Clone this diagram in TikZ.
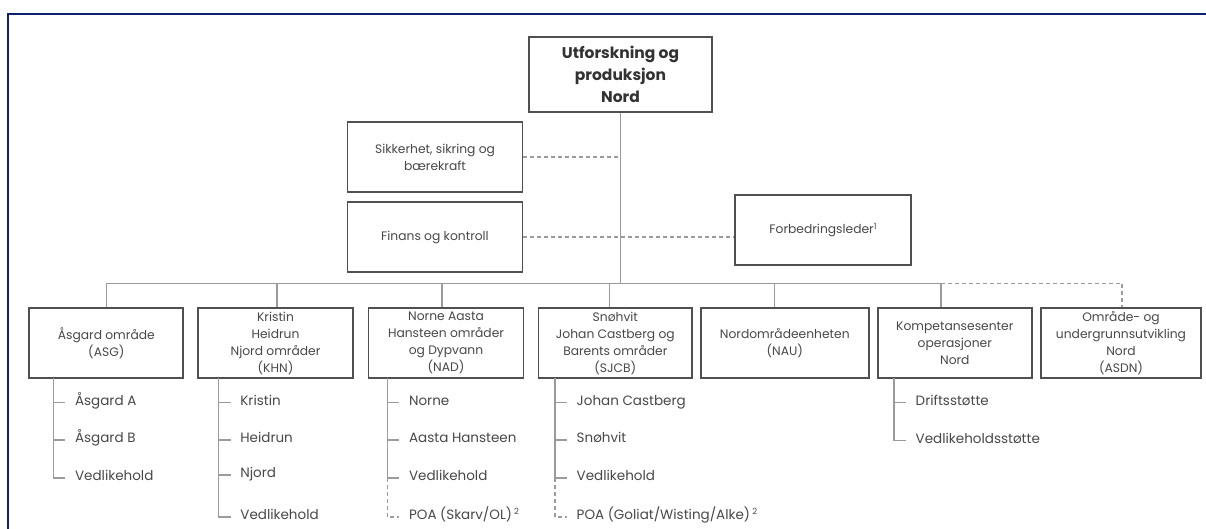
\documentclass[tikz,border=0pt]{standalone}
\usepackage{fontspec}
\setmainfont{Poppins}
\definecolor{navy}{RGB}{14,32,112}
\definecolor{boxline}{RGB}{80,80,80}
\definecolor{connline}{RGB}{155,155,155}
\definecolor{txt}{RGB}{72,72,72}
\definecolor{toptxt}{RGB}{50,50,50}
\newcommand{\supnum}[1]{\raisebox{0.38em}{\fontsize{8.5}{8.5}\selectfont #1}}
\tikzset{
  orgbox/.style={draw=boxline, line width=1.8pt, rectangle, align=center, inner sep=0pt,
    minimum height=70pt, text=txt, font=\fontsize{12.3}{17}\selectfont},
  topbox/.style={orgbox, minimum width=183pt, minimum height=75pt, text=toptxt,
    font=\fontsize{15.5}{22}\selectfont\bfseries},
  conn/.style={draw=connline, line width=1.2pt},
  dashconn/.style={draw=connline, line width=1.2pt, dash pattern=on 4pt off 3pt},
  item/.style={anchor=mid west, inner xsep=9.5pt, inner ysep=0pt, text=txt,
    font=\fontsize{13.5}{16}\selectfont},
}
\begin{document}
\begin{tikzpicture}[x=1pt,y=-1pt]
\useasboundingbox (0,0) rectangle (1206,529);
\fill[white] (0,0) rectangle (1206,529);
% frame
\draw[navy, line width=2.4pt] (7.7,545) -- (7.7,14) -- (1215,14);

% top level
\node[topbox] (top) at (620.5,74.5) {Utforskning og\\produksjon\\Nord};
\node[orgbox, minimum width=175pt] (sik) at (435,157) {Sikkerhet, sikring og\\bærekraft};
\node[orgbox, minimum width=175pt] (fin) at (435,237) {Finans og kontroll};
\node[orgbox, minimum width=176pt] (forb) at (823,230) {Forbedringsleder\supnum{1}};

% second level
\node[orgbox, minimum width=154pt] (asg) at (106.3,343) {Åsgard område\\(ASG)};
\node[orgbox, minimum width=155pt] (khn) at (275.5,343) {Kristin\\Heidrun\\Njord områder\\(KHN)};
\node[orgbox, minimum width=155pt] (nad) at (446,343) {Norne Aasta\\Hansteen områder\\og Dypvann\\(NAD)};
\node[orgbox, minimum width=153.5pt] (sjcb) at (615.3,343) {Snøhvit\\Johan Castberg og\\Barents områder\\(SJCB)};
\node[orgbox, minimum width=168pt] (nau) at (784.8,343) {Nordområdeenheten\\(NAU)};
\node[orgbox, minimum width=154pt] (kos) at (954.8,343) {Kompetansesenter\\operasjoner\\Nord};
\node[orgbox, minimum width=160pt] (asdn) at (1121,343) {Område- og\\undergrunnsutvikling\\Nord\\(ASDN)};

% bus
\coordinate (bus) at (0,283.3);
\coordinate (busL) at (106.7,283.3);
\coordinate (busK) at (941,283.3);
\coordinate (busR) at (1122,283.3);
\draw[conn] (top.south) -- (top.south |- bus);
\draw[conn] (busL) -- (busK);
\draw[conn] (busL) -- (busL |- asg.north);
\draw[conn] ([xshift=1.5pt]khn.north |- bus) -- ([xshift=1.5pt]khn.north);
\draw[conn] ([xshift=-4pt]nad.north |- bus) -- ([xshift=-4pt]nad.north);
\draw[conn] ([xshift=-5.8pt]sjcb.north |- bus) -- ([xshift=-5.8pt]sjcb.north);
\draw[conn] ([xshift=-10.2pt]nau.north |- bus) -- ([xshift=-10.2pt]nau.north);
\draw[conn] (busK) -- (busK |- kos.north);
\draw[dashconn] (busK) -- (busR) -- (busR |- asdn.north);

% staff lines
\draw[dashconn] (sik.east) -- (sik.east -| top.south);
\draw[dashconn] (fin.east) -- (fin.east -| forb.west);

% items: Åsgard
\node[item] (a1) at (65.4,402.7) {Åsgard A};
\node[item] (a2) at (65.4,440) {Åsgard B};
\node[item] (a3) at (65.4,478) {Vedlikehold};
\coordinate (aT) at (53.4,378);
\draw[conn] (aT) |- (a3.mid west);
\draw[conn] (a1.mid west -| aT) -- (a1.mid west);
\draw[conn] (a2.mid west -| aT) -- (a2.mid west);

% items: KHN
\node[item] (k1) at (230.7,402.7) {Kristin};
\node[item] (k2) at (230.7,440) {Heidrun};
\node[item] (k3) at (230.7,475) {Njord};
\node[item] (k4) at (230.7,517) {Vedlikehold};
\coordinate (kT) at (218.7,378);
\draw[conn] (kT) |- (k4.mid west);
\draw[conn] (k1.mid west -| kT) -- (k1.mid west);
\draw[conn] (k2.mid west -| kT) -- (k2.mid west);
\draw[conn] (k3.mid west -| kT) -- (k3.mid west);

% items: NAD
\node[item] (n1) at (399.4,402.7) {Norne};
\node[item] (n2) at (399.4,440) {Aasta Hansteen};
\node[item] (n3) at (399.4,478) {Vedlikehold};
\node[item] (n4) at (399.4,517) {POA (Skarv/OL)\,\supnum{2}};
\coordinate (nT) at (387.4,378);
\draw[conn] (nT) |- (n3.mid west);
\draw[conn] (n1.mid west -| nT) -- (n1.mid west);
\draw[conn] (n2.mid west -| nT) -- (n2.mid west);
\draw[dashconn] (n3.mid west -| nT) |- (n4.mid west);

% items: SJCB
\node[item] (s1) at (567,402.7) {Johan Castberg};
\node[item] (s2) at (567,440) {Snøhvit};
\node[item] (s3) at (567,478) {Vedlikehold};
\node[item] (s4) at (567,517) {POA (Goliat/Wisting/Alke)\,\supnum{2}};
\coordinate (sT) at (555,378);
\draw[conn] (sT) |- (s3.mid west);
\draw[conn] (s1.mid west -| sT) -- (s1.mid west);
\draw[conn] (s2.mid west -| sT) -- (s2.mid west);
\draw[dashconn] (s3.mid west -| sT) |- (s4.mid west);

% items: Kompetansesenter
\node[item] (c1) at (906,402.7) {Driftsstøtte};
\node[item] (c2) at (906,440.7) {Vedlikeholdsstøtte};
\coordinate (cT) at (894,378);
\draw[conn] (cT) |- (c2.mid west);
\draw[conn] (c1.mid west -| cT) -- (c1.mid west);
\end{tikzpicture}
\end{document}
